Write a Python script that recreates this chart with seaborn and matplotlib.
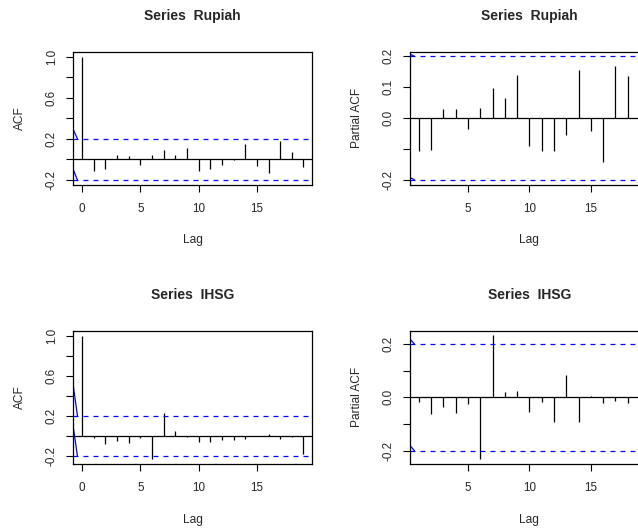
import matplotlib
matplotlib.use("Agg")
import matplotlib.pyplot as plt
import numpy as np
import pandas as pd
import seaborn as sns

# ---------------- data ----------------
lags_acf = list(range(0, 20))
lags_pacf = list(range(1, 19))

acf_rupiah = [1.0, -0.11, -0.09, 0.048, 0.032, -0.055, 0.039, 0.097, 0.039, 0.11,
              -0.11, -0.09, -0.055, -0.006, 0.155, -0.065, -0.13, 0.184, 0.077, -0.07]
pacf_rupiah = [-0.107, -0.104, 0.029, 0.029, -0.037, 0.032, 0.097, 0.065, 0.138,
               -0.089, -0.107, -0.107, -0.056, 0.155, -0.043, -0.142, 0.168, 0.135]
acf_ihsg = [1.0, -0.016, -0.072, -0.043, -0.066, -0.016, -0.226, 0.236, 0.049, -0.007,
            -0.052, -0.052, -0.039, -0.039, -0.03, 0.007, 0.02, -0.03, -0.007, -0.18]
pacf_ihsg = [-0.016, -0.061, -0.038, -0.06, -0.024, -0.233, 0.235, 0.02, 0.024,
             -0.054, -0.018, -0.091, 0.083, -0.091, 0.005, -0.02, -0.013, -0.02]

conf_limit = 0.2

titles = ["Series  Rupiah", "Series  Rupiah", "Series  IHSG", "Series  IHSG"]
ylabels = ["ACF", "Partial ACF", "ACF", "Partial ACF"]

acf_ticks = [-0.2, 0.0, 0.2, 0.4, 0.6, 0.8, 1.0]
acf_ticklabels = ["-0.2", "", "0.2", "", "0.6", "", "1.0"]
pacf_ticks = [-0.2, -0.1, 0.0, 0.1, 0.2]
pacf_r_ticklabels = ["-0.2", "", "0.0", "0.1", "0.2"]
pacf_i_ticklabels = ["-0.2", "", "0.0", "", "0.2"]

# ---------------- style ----------------
sns.set_theme(style="ticks")
plt.rcParams["font.family"] = ["Liberation Sans", "DejaVu Sans"]
plt.rcParams["axes.edgecolor"] = "black"

fig = plt.figure(figsize=(6.38, 5.31), dpi=100)
W, H = 638.0, 531.0

def add_axes(left, top, right, bottom):
    return fig.add_axes([left / W, 1 - bottom / H, (right - left) / W, (bottom - top) / H])

ax_tl = add_axes(73.3, 51.7, 312.3, 185.0)
ax_tr = add_axes(410.0, 51.7, 648.8, 185.0)
ax_bl = add_axes(73.3, 330.7, 312.3, 464.0)
ax_br = add_axes(410.0, 330.7, 648.8, 464.0)

BLUE = "#0000ff"

def panel(ax, lags, vals, title, ylabel, xlim, ylim, yticks, yticklabels, xticks,
          segs, xlabel_y):
    df = pd.DataFrame({"lag": lags, "value": vals})
    ax.vlines(df["lag"], 0, df["value"], color="black", lw=0.9)
    ax.axhline(0, color="black", lw=0.9)
    for c in (conf_limit, -conf_limit):
        ax.axhline(c, color=BLUE, lw=0.9, ls=(0, (4, 4)))
    for (y0, y1) in segs:
        ax.plot([xlim[0], xlim[0] + 0.36], [y0, y1], color=BLUE, lw=0.9)
    ax.set_xlim(*xlim)
    ax.set_ylim(*ylim)
    ax.set_xticks(xticks)
    ax.set_xticklabels([str(t) for t in xticks])
    ax.set_yticks(yticks)
    ax.set_yticklabels(yticklabels, rotation=90, va="center")
    ax.tick_params(axis="both", direction="out", length=4.7, width=0.8,
                   labelsize=8.4, color="black")
    ax.tick_params(axis="x", pad=8.0)
    ax.tick_params(axis="y", pad=6.5)
    for s in ax.spines.values():
        s.set_visible(True)
        s.set_color("black")
        s.set_linewidth(0.9)
    ax.set_title(title, fontsize=10, fontweight="bold", pad=22.5)
    ax.set_xlabel("Lag", fontsize=8.6)
    ax.xaxis.label.set_va("center")
    ax.xaxis.set_label_coords(0.5, xlabel_y)
    ax.set_ylabel(ylabel, fontsize=8.6)
    ax.yaxis.label.set_va("center")
    ax.yaxis.set_label_coords(-0.223, 0.5)

panel(ax_tl, lags_acf, acf_rupiah, titles[0], ylabels[0], (-0.76, 19.76), (-0.248, 1.048),
      acf_ticks, acf_ticklabels, [0, 5, 10, 15], [(0.29, 0.2), (-0.1, -0.2)], -0.413)
panel(ax_tr, lags_pacf, pacf_rupiah, titles[1], ylabels[1], (0.28, 19.72), (-0.217, 0.215),
      pacf_ticks, pacf_r_ticklabels, [5, 10, 15], [(0.207, 0.2), (-0.193, -0.2)], -0.413)
panel(ax_bl, lags_acf, acf_ihsg, titles[2], ylabels[2], (-0.76, 19.76), (-0.275, 1.049),
      acf_ticks, acf_ticklabels, [0, 5, 10, 15], [(0.5, 0.2), (0.09, -0.2)], -0.42)
panel(ax_br, lags_pacf, pacf_ihsg, titles[3], ylabels[3], (0.28, 19.72), (-0.25, 0.25),
      pacf_ticks, pacf_i_ticklabels, [5, 10, 15], [(0.219, 0.2), (-0.181, -0.2)], -0.42)

fig.savefig("out.png", dpi=100)
